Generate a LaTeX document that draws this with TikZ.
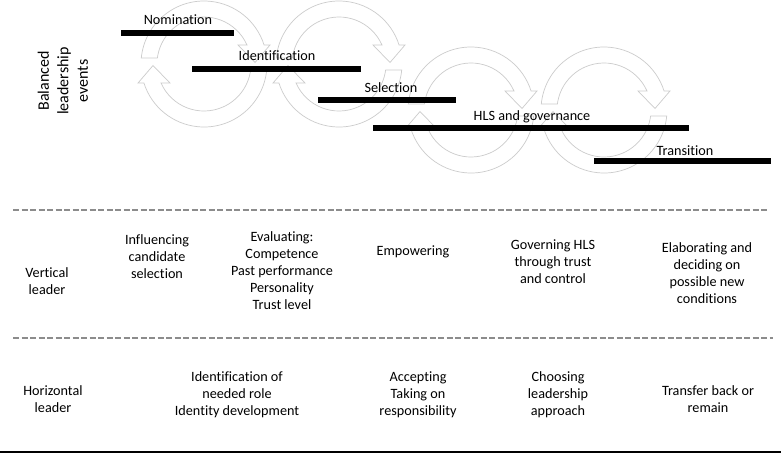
\documentclass[tikz,border=0pt]{standalone}
\usepackage{fontspec}
\setmainfont[Ligatures=NoCommon]{Carlito}
\newcommand\cycicon[2]{%
  \begin{scope}[shift={(#1,#2)}, y=1pt]
    \path[icon] (174.5:63) arc[start angle=174.5, end angle=17.6, radius=63]
      -- (66,19) -- (51,1.5) -- (34,19) -- (23.85:47)
      arc[start angle=23.85, end angle=172.7, radius=47] -- cycle;
    \path[icon, rotate=180] (174.5:63) arc[start angle=174.5, end angle=17.6, radius=63]
      -- (66,19) -- (51,1.5) -- (34,19) -- (23.85:47)
      arc[start angle=23.85, end angle=172.7, radius=47] -- cycle;
  \end{scope}}
\begin{document}
\begin{tikzpicture}[x=1pt, y=-1pt,
  bar/.style={fill=black},
  evlabel/.style={font=\fontsize{14.2}{17}\selectfont, inner sep=0pt, anchor=base},
  cell/.style={font=\fontsize{14.2}{17}\selectfont, align=center, inner sep=0pt},
  icon/.style={draw=black!20, line width=0.7pt, fill=white},
  sep/.style={draw=black!45, line width=1.3pt, dash pattern=on 6pt off 2.5pt}]
\useasboundingbox (0,0) rectangle (781,453);
\fill[white] (0,0) rectangle (781,453);

% cycle icons
\cycicon{204}{64}
\cycicon{339}{64}
\cycicon{471}{110}
\cycicon{604}{110}

% event bars
\fill[bar] (121,30) rectangle (234,36);
\fill[bar] (192,66) rectangle (361,72);
\fill[bar] (318,97) rectangle (456,103);
\fill[bar] (373,125) rectangle (689,131);
\fill[bar] (594,158) rectangle (771,164);

\node[evlabel] (nom) at (178,24) {Nomination};
\node[evlabel] (ide) at (277,60) {Identification};
\node[evlabel] (sel) at (391,92) {Selection};
\node[evlabel] (hls) at (532,120) {HLS and governance};
\node[evlabel] (tra) at (685,155) {Transition};

\node[cell, rotate=90, font=\fontsize{16}{19.5}\selectfont] (ble) at (63,81) {Balanced\\leadership\\events};

% separators
\coordinate (s1a) at (13,210); \coordinate (s1b) at (767,210);
\coordinate (s2a) at (13,338); \coordinate (s2b) at (773,338);
\coordinate (b1) at (0,452); \coordinate (b2) at (781,452);
\draw[sep] (s1a) -- (s1b);
\draw[sep] (s2a) -- (s2b);
\draw[line width=1.5pt] (b1) -- (b2);

% vertical leader row
\node[cell] (vl) at (47,281) {Vertical\\leader};
\node[cell] (v1) at (157,257) {Influencing\\candidate\\selection};
\node[cell] (v2) at (282,271) {Evaluating:\\Competence\\Past performance\\Personality\\Trust level};
\node[cell] (v3) at (413,252) {Empowering};
\node[cell] (v4) at (553,262) {Governing HLS\\through trust\\and control};
\node[cell] (v5) at (707,273) {Elaborating and\\deciding on\\possible new\\conditions};

% horizontal leader row
\node[cell] (hl) at (53,399) {Horizontal\\leader};
\node[cell] (h1) at (237,395) {Identification of\\needed role\\Identity development};
\node[cell] (h2) at (418,395) {Accepting\\Taking on\\responsibility};
\node[cell] (h3) at (558,395) {Choosing\\leadership\\approach};
\node[cell] (h4) at (708,399) {Transfer back or\\remain};
\end{tikzpicture}
\end{document}
